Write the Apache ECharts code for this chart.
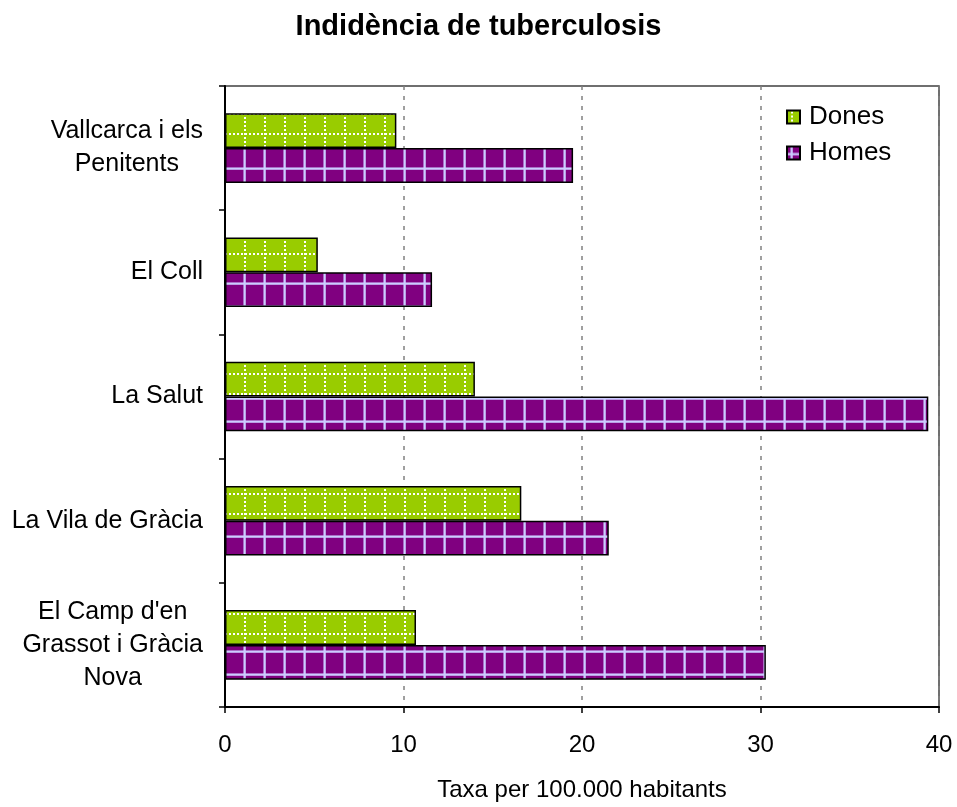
<!DOCTYPE html>
<html>
<head>
<meta charset="utf-8">
<script src="https://cdn.jsdelivr.net/npm/echarts@6/dist/echarts.min.js"></script>
<style>
  html, body { margin: 0; padding: 0; background: #fff; }
  #chart { width: 957px; height: 807px; }
</style>
</head>
<body>
<div id="chart"></div>
<script>
// Neighbourhoods of the Gràcia district, top to bottom
const categories = [
  'Vallcarca i els\nPenitents',
  'El Coll',
  'La Salut',
  'La Vila de Gràcia',
  "El Camp d'en\nGrassot i Gràcia\nNova"
];
// Rates per 100,000 inhabitants
const dones = [9.6, 5.2, 14.0, 16.6, 10.7];
const homes = [19.5, 11.6, 39.4, 21.5, 30.3];
const xTicks = [0, 10, 20, 30, 40];

// Fill patterns for the bars
function gridPattern(w, h, bg, line, dotted) {
  const c = document.createElement('canvas');
  c.width = w; c.height = h;
  const g = c.getContext('2d');
  g.fillStyle = bg;
  g.fillRect(0, 0, w, h);
  g.fillStyle = line;
  const ox = 4;
  if (dotted) {
    for (let y = 1; y < h; y += 4) g.fillRect(ox, y, 2, 2);
    for (let x = 1; x < w; x += 4) g.fillRect(x, 13, 2, 2);
  } else {
    g.globalAlpha = 0.55;
    g.fillRect(ox - 1, 0, 3, h);
    g.fillRect(0, 6, w, 3);
    g.globalAlpha = 1;
    g.fillRect(ox, 0, 1.5, h);
    g.fillRect(0, 7, w, 1.5);
  }
  return c;
}
const donesPattern = gridPattern(20, 20, '#99CC00', '#ffffff', true);
const homesPattern = gridPattern(20, 23, '#800080', '#CCCCFF', false);

const font = 'Liberation Sans, Arial, sans-serif';
const chart = echarts.init(document.getElementById('chart'));
chart.setOption({
  animation: false,
  backgroundColor: '#ffffff',
  title: {
    text: 'Indidència de tuberculosis',
    left: 'center',
    top: 7,
    textStyle: { fontFamily: font, fontSize: 29, fontWeight: 'bold', color: '#000' }
  },
  legend: {
    orient: 'vertical',
    left: 781,
    top: 97,
    icon: 'rect',
    itemWidth: 13,
    itemHeight: 13,
    itemGap: 6,
    textStyle: { fontFamily: font, fontSize: 26, lineHeight: 30, color: '#000', padding: [0, 0, 0, 4] },
    data: ['Dones', 'Homes']
  },
  grid: {
    left: 225, right: 18, top: 86, bottom: 99,
    show: true,
    borderColor: '#404040',
    borderWidth: 1.5
  },
  xAxis: {
    type: 'value',
    min: 0, max: 40, interval: 10,
    name: 'Taxa per 100.000 habitants',
    nameLocation: 'middle',
    nameGap: 71,
    nameTextStyle: { fontFamily: font, fontSize: 24, color: '#000' },
    axisLine: { show: true, lineStyle: { color: '#000', width: 2 } },
    axisTick: { show: true, length: 6, lineStyle: { color: '#000', width: 1.5 } },
    axisLabel: {
      margin: 26,
      fontFamily: font, fontSize: 24, color: '#000',
      formatter: v => xTicks.includes(v) ? String(v) : ''
    },
    splitLine: {
      show: true,
      lineStyle: { color: '#808080', type: [4, 6], width: 1.5 }
    }
  },
  yAxis: {
    type: 'category',
    inverse: true,
    data: categories,
    axisLine: { show: true, lineStyle: { color: '#000', width: 2 } },
    axisTick: { show: true, length: 6, lineStyle: { color: '#000', width: 1.5 } },
    axisLabel: {
      margin: 22,
      align: 'right',
      formatter: v => v.split('\n').map(s => '{c|' + s + '}').join('\n'),
      rich: {
        c: { fontFamily: font, fontSize: 25, lineHeight: 33, color: '#000', align: 'center' }
      }
    }
  },
  series: [
    {
      name: 'Dones',
      type: 'bar',
      data: dones,
      barGap: '0%',
      barCategoryGap: '44%',
      itemStyle: {
        color: { image: donesPattern, repeat: 'repeat' },
        borderColor: '#000', borderWidth: 1.5
      }
    },
    {
      name: 'Homes',
      type: 'bar',
      data: homes,
      barGap: '0%',
      barCategoryGap: '44%',
      itemStyle: {
        color: { image: homesPattern, repeat: 'repeat' },
        borderColor: '#000', borderWidth: 1.5
      }
    }
  ]
});
</script>
</body>
</html>
